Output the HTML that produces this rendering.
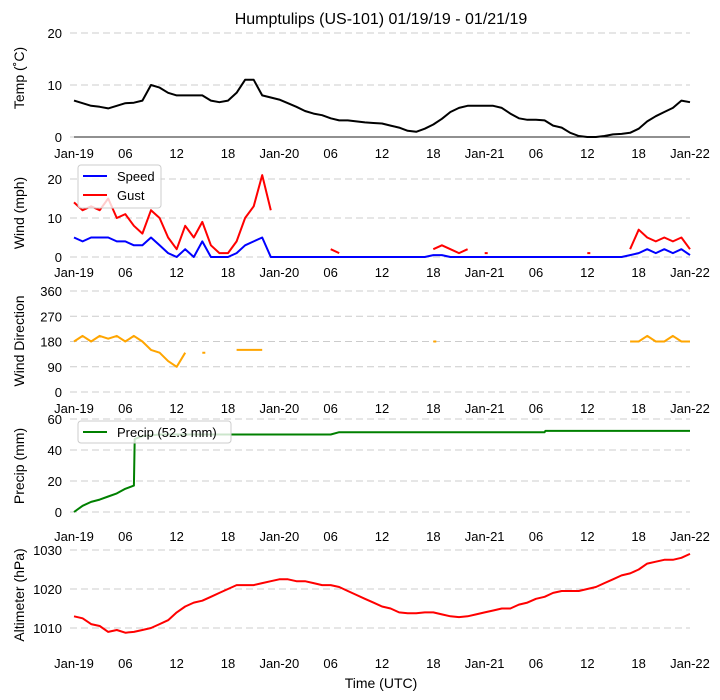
<!DOCTYPE html>
<html><head><meta charset="utf-8"><style>
body{margin:0;background:#fff;}
svg{display:block;font-family:"Liberation Sans","DejaVu Sans",sans-serif;}
</style></head><body>
<svg id="c" width="720" height="700" xmlns="http://www.w3.org/2000/svg"></svg>
<script>
const hours=[];for(let i=0;i<=72;i++)hours.push(i);
const xTickLabels=["Jan-19","06","12","18","Jan-20","06","12","18","Jan-21","06","12","18","Jan-22"];
const temp=[7,6.5,6,5.8,5.5,6,6.5,6.6,7,10,9.5,8.5,8,8,8,8,7,6.7,7,8.5,11,11,8,7.6,7.2,6.5,5.8,5,4.5,4.2,3.6,3.2,3.2,3,2.8,2.7,2.6,2.2,1.8,1.2,1,1.6,2.4,3.5,4.8,5.6,6,6,6,6,5.6,4.5,3.6,3.3,3.3,3.2,2.2,1.8,0.8,0.2,0,0,0.2,0.5,0.6,0.8,1.6,3,4,4.8,5.6,7,6.7];
const speed=[5,4,5,5,5,4,4,3,3,5,3,1,0,2,0,4,0,0,0,1,3,4,5,0,0,0,0,0,0,0,0,0,0,0,0,0,0,0,0,0,0,0,0.5,0.5,0,0,0,0,0,0,0,0,0,0,0,0,0,0,0,0,0,0,0,0,0,0.5,1,2,1,2,1,2,0.5];
const gust=[14,12,13,12,15,10,11,8,6,12,10,5,2,8,5,9,3,1,1,4,10,13,21,12,null,null,null,null,null,null,2,1,null,null,null,null,null,null,null,null,null,null,2,3,2,1,2,null,1,null,null,null,null,null,null,null,null,null,null,null,1,null,null,null,null,2,7,5,4,5,4,5,2];
const direction=[180,200,180,200,190,200,180,200,180,150,140,110,90,140,null,140,null,null,null,150,150,150,150,null,null,null,null,null,null,null,null,null,null,null,null,null,null,null,null,null,null,null,180,null,null,null,null,null,null,null,null,null,null,null,null,null,null,null,null,null,null,null,null,null,null,180,180,200,180,180,200,180,180];
const precipHours=[0,1,2,3,4,5,6,7,7.1,8,10,14,20,30,31,40,55,55.1,72];
const precip=[0,4,6.5,8,10,12,15,17,47,49,50,50,50,50,51.5,51.5,51.5,52.3,52.3];
const altim=[1013,1012.5,1011,1010.5,1009,1009.5,1008.8,1009,1009.5,1010,1011,1012,1014,1015.5,1016.5,1017,1018,1019,1020,1021,1021,1021,1021.5,1022,1022.5,1022.5,1022,1022,1021.5,1021,1021,1020.5,1019.5,1018.5,1017.5,1016.5,1015.5,1015,1014,1013.8,1013.8,1014,1014,1013.5,1013,1012.8,1013,1013.5,1014,1014.5,1015,1015,1016,1016.5,1017.5,1018,1019,1019.5,1019.5,1019.5,1020,1020.5,1021.5,1022.5,1023.5,1024,1025,1026.5,1027,1027.5,1027.5,1028,1029];

const svg=document.getElementById('c');const NS='http://www.w3.org/2000/svg';
function mk(t,a,p){const e=document.createElementNS(NS,t);for(const k in a)e.setAttribute(k,a[k]);(p||svg).appendChild(e);return e;}
const X=h=>74+h*616/72;
function txt(s,x,y,anchor,size,rot){const e=mk('text',{x:x,y:y,'text-anchor':anchor,'font-size':size,fill:'#000'});if(rot)e.setAttribute('transform','rotate(-90 '+x+' '+y+')');e.textContent=s;return e;}
const t=txt('Humptulips (US-101) 01/19/19 - 01/21/19',381,24,'middle',16);



function panel(name,title,y0,y1,v0,v1,ticks,tickLabY,titleY){
  const Y=v=>y0+(v-v0)*(y1-y0)/(v1-v0);
  const g=mk('g',{});
  
  
  ticks.forEach(v=>{mk('line',{x1:70,x2:690,y1:Y(v),y2:Y(v),stroke:'#cccccc','stroke-dasharray':'7,4','stroke-width':1},g);
    const l=txt(String(v),62,Y(v)+5,'end',13);g.appendChild(l);});
  xTickLabels.forEach((s,i)=>{const l=txt(s,X(i*6),tickLabY,'middle',13);g.appendChild(l);});
  const at=txt(title,24,titleY,'middle',14,true);
  
  
  g.appendChild(at);
  return {Y:Y,g:g};
}
function series(p,xs,vals,color,name){
  let d='';let pen=false;
  for(let i=0;i<vals.length;i++){const v=vals[i];if(v===null){pen=false;continue;}
    d+=(pen?'L':'M')+X(xs[i]).toFixed(1)+' '+p.Y(v).toFixed(1)+' ';pen=true;
    if(i+1<vals.length&&vals[i+1]===null&&(i===0||vals[i-1]===null))d+='h3 ';}
  const e=mk('path',{d:d,fill:'none',stroke:color,'stroke-width':2,'stroke-linejoin':'round'},p.g);
  
  
}
const p1=panel('temp','Temp (˚C)',137,33,0,20,[0,10,20],158,78);
mk('line',{x1:74,x2:690,y1:137,y2:137,stroke:'#222','stroke-width':1},p1.g);
series(p1,hours,temp,'#000','temp-line');
const p2=panel('wind','Wind (mph)',257,179,0,20,[0,10,20],277,213);
series(p2,hours,gust,'#ff0000','gust-line');
series(p2,hours,speed,'#0000ff','speed-line');
const lg=mk('g',{});


mk('rect',{x:78,y:165,width:83,height:43,rx:3,fill:'#fff','fill-opacity':0.8,stroke:'#ccc'},lg);
mk('line',{x1:83,x2:107,y1:176,y2:176,stroke:'#0000ff','stroke-width':2},lg);
mk('line',{x1:83,x2:107,y1:195,y2:195,stroke:'#ff0000','stroke-width':2},lg);
lg.appendChild(txt('Speed',117,181,'start',13));lg.appendChild(txt('Gust',117,200,'start',13));
const p3=panel('direction','Wind Direction',392,291,0,360,[0,90,180,270,360],413,341);
series(p3,hours,direction,'#ffa500','direction-line');
const p4=panel('precip','Precip (mm)',512,419,0,60,[0,20,40,60],541,466);
series(p4,precipHours,precip,'#008000','precip-line');
const lg2=mk('g',{});


mk('rect',{x:78,y:421,width:153,height:22,rx:3,fill:'#fff','fill-opacity':0.8,stroke:'#ccc'},lg2);
mk('line',{x1:83,x2:107,y1:432,y2:432,stroke:'#008000','stroke-width':2},lg2);
lg2.appendChild(txt('Precip (52.3 mm)',117,437,'start',13));
const p5=panel('altimeter','Altimeter (hPa)',628,550,1010,1030,[1010,1020,1030],668,595);
series(p5,hours,altim,'#ff0000','altimeter-line');
const xt=txt('Time (UTC)',381,688,'middle',14);


</script>
</body></html>
